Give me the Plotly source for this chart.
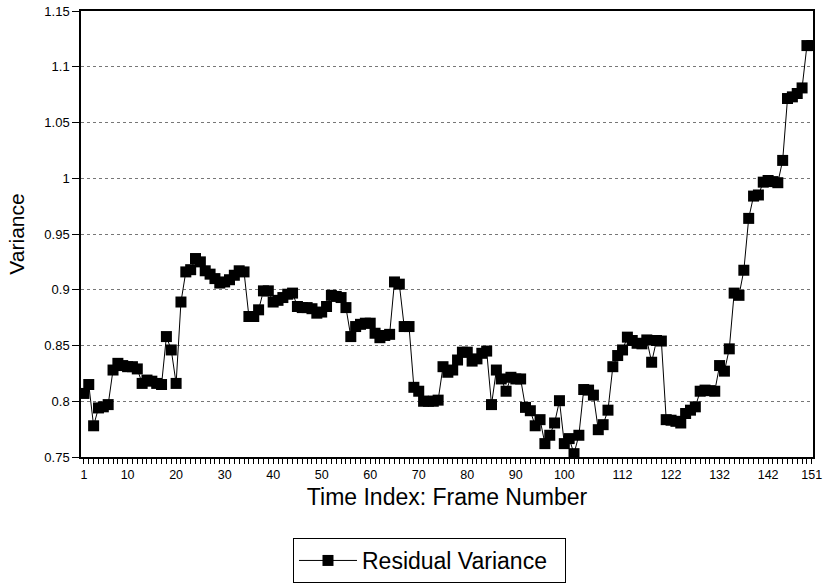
import plotly.graph_objects as go

frames = list(range(1, 152))
residual_variance = [
    0.807, 0.815, 0.778, 0.794, 0.795, 0.797, 0.828, 0.834, 0.832, 0.831,
    0.831, 0.829, 0.816, 0.819, 0.818, 0.816, 0.815, 0.858, 0.846, 0.816,
    0.889, 0.916, 0.918, 0.928, 0.925, 0.917, 0.914, 0.910, 0.906, 0.907,
    0.909, 0.913, 0.917, 0.916, 0.876, 0.876, 0.882, 0.899, 0.899, 0.889,
    0.8905, 0.893, 0.896, 0.897, 0.885, 0.884, 0.884, 0.883, 0.879, 0.880,
    0.885, 0.895, 0.894, 0.893, 0.884, 0.858, 0.867, 0.869, 0.870, 0.870,
    0.861, 0.857, 0.859, 0.860, 0.907, 0.905, 0.867, 0.867, 0.8125, 0.809,
    0.800, 0.800, 0.800, 0.801, 0.831, 0.826, 0.828, 0.837, 0.844, 0.844,
    0.836, 0.838, 0.843, 0.845, 0.797, 0.828, 0.820, 0.809, 0.8215, 0.820,
    0.820, 0.7945, 0.7915, 0.778, 0.7835, 0.762, 0.7695, 0.7805, 0.8005, 0.762,
    0.7665, 0.753, 0.7695, 0.8105, 0.810, 0.8055, 0.7745, 0.779, 0.792, 0.831,
    0.841, 0.846, 0.8575, 0.8545, 0.852, 0.8515, 0.855, 0.835, 0.8545, 0.854,
    0.7835, 0.783, 0.782, 0.7805, 0.789, 0.792, 0.795, 0.809, 0.810, 0.8095,
    0.809, 0.832, 0.827, 0.847, 0.897, 0.895, 0.9175, 0.964, 0.984, 0.985,
    0.9965, 0.998, 0.997, 0.996, 1.016, 1.0715, 1.073, 1.076, 1.081, 1.119,
    1.119,
]

x_tick_vals = [1, 10, 20, 30, 40, 50, 60, 70, 80, 90, 100, 112, 122, 132, 142, 151]
x_tick_text = [str(v) for v in x_tick_vals]
y_tick_vals = [0.75, 0.8, 0.85, 0.9, 0.95, 1.0, 1.05, 1.1, 1.15]
y_tick_text = ["0.75", "0.8", "0.85", "0.9", "0.95", "1", "1.05", "1.1", "1.15"]

FONT = "Liberation Sans, Arial, sans-serif"

fig = go.Figure()
fig.add_trace(go.Scatter(
    x=frames, y=residual_variance, mode="lines+markers",
    name="Residual Variance\u00a0\u00a0",
    line=dict(color="black", width=1),
    marker=dict(symbol="square", size=11, color="black"),
))

fig.update_layout(
    width=823, height=583,
    margin=dict(l=81, r=10, t=11, b=126, autoexpand=False),
    paper_bgcolor="white", plot_bgcolor="white",
    font=dict(family=FONT, color="black"),
    showlegend=True,
    legend=dict(
        x=0.2896, y=-0.1816, xanchor="left", yanchor="top",
        bordercolor="black", borderwidth=1,
        font=dict(size=23, color="black", family=FONT),
        itemwidth=58,
    ),
)

fig.update_xaxes(
    range=[0.4, 151.25], automargin=False, ticklabeloverflow="allow",
    tickmode="array", tickvals=x_tick_vals, ticktext=x_tick_text,
    ticks="outside", ticklen=5, tickwidth=1, tickcolor="black",
    minor=dict(dtick=1, tick0=1, ticks="outside", ticklen=5, tickwidth=1, tickcolor="black", showgrid=False),
    showline=True, linecolor="black", linewidth=1.5, mirror=True,
    showgrid=False, zeroline=False,
    tickfont=dict(size=12.5, family=FONT, color="black"),
    title=dict(text="Time Index: Frame Number", font=dict(size=23, family=FONT, color="black"), standoff=8),
)

fig.update_yaxes(
    range=[0.75, 1.15], automargin=False, ticklabeloverflow="allow",
    tickmode="array", tickvals=y_tick_vals, ticktext=y_tick_text,
    ticks="outside", ticklen=7, tickwidth=1, tickcolor="black",
    showline=True, linecolor="black", linewidth=1.5, mirror=True,
    showgrid=True, gridcolor="#777777", griddash="dot", gridwidth=1,
    zeroline=False,
    tickfont=dict(size=13, family=FONT, color="black"),
    title=dict(text="Variance", font=dict(size=21, family=FONT, color="black"), standoff=14),
)

fig.write_html(
    "out.html",
    config={"displayModeBar": False},
    post_script="document.body.style.margin='0px';document.body.style.overflow='hidden';",
)
